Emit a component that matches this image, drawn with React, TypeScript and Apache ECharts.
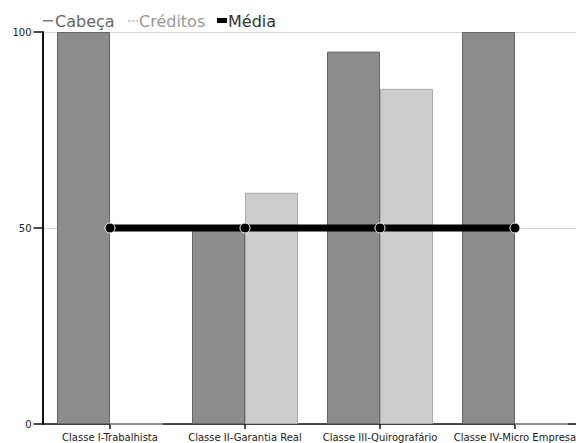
import React, { useEffect, useRef } from "react";
import * as echarts from "echarts";

const categories = [
  "Classe I-Trabalhista",
  "Classe II-Garantia Real",
  "Classe III-Quirografário",
  "Classe IV-Micro Empresa",
];
const seriesNames = ["Cabeça", "Créditos", "Média"];
const cabecaValues = [100, 50, 95, 100];
const creditosValues = [0, 59, 85.5, 0];
const mediaValues = [50, 50, 50, 50];
const yTicks = { min: 0, max: 100, interval: 50 };

export default function App() {
  const ref = useRef<HTMLDivElement>(null);
  useEffect(() => {
    if (!ref.current) return;
    const chart = echarts.init(ref.current, null, { renderer: "svg" });
    const font = "DejaVu Sans";
    const legendText = (x: number, text: string, color: string) => ({
      type: "text",
      x,
      y: 21.5,
      style: {
        text,
        fill: color,
        font: `16px "${font}"`,
        textVerticalAlign: "middle",
        verticalAlign: "middle",
      },
    });
    chart.setOption({
      animation: false,
      backgroundColor: "#ffffff",
      textStyle: { fontFamily: font },
      graphic: [
        { type: "rect", shape: { x: 43, y: 20, width: 10, height: 1.5 }, style: { fill: "#777" } },
        legendText(55, seriesNames[0], "#666"),
        {
          type: "line",
          shape: { x1: 128, y1: 21, x2: 138, y2: 21 },
          style: { stroke: "#aaa", lineWidth: 1, lineDash: [3, 1] },
        },
        legendText(139, seriesNames[1], "#999"),
        { type: "rect", shape: { x: 217, y: 18, width: 10, height: 5 }, style: { fill: "#000" } },
        legendText(228, seriesNames[2], "#333"),
      ],
      grid: { left: 42.5, top: 32, width: 540, bottom: 19, containLabel: false, outerBoundsMode: "none" },
      xAxis: {
        type: "category",
        data: categories,
        boundaryGap: true,
        axisLine: { show: true, lineStyle: { color: "#111", width: 1.5 } },
        axisTick: { show: true, alignWithLabel: true, length: 5, lineStyle: { color: "#111", width: 1.5 } },
        axisLabel: { fontFamily: font, fontSize: 10, color: "#222", margin: 8, interval: 0 },
        splitLine: { show: false },
      },
      yAxis: {
        type: "value",
        min: yTicks.min,
        max: yTicks.max,
        interval: yTicks.interval,
        axisLine: { show: true, lineStyle: { color: "#111", width: 2 } },
        axisTick: { show: true, length: 9, lineStyle: { color: "#111", width: 1.5 } },
        axisLabel: { fontFamily: font, fontSize: 10, color: "#222", margin: 11 },
        splitLine: { show: true, lineStyle: { color: "#aaaaaa", type: "dotted", width: 1 } },
      },
      series: [
        {
          name: seriesNames[0],
          type: "bar",
          data: cabecaValues,
          barWidth: 53,
          barGap: "0%",
          itemStyle: { color: "#8c8c8c", borderColor: "#666", borderWidth: 1 },
          z: 2,
        },
        {
          name: seriesNames[1],
          type: "bar",
          data: creditosValues,
          barWidth: 53,
          barGap: "0%",
          itemStyle: { color: "#cccccc", borderColor: "#aaa", borderWidth: 1 },
          z: 2,
        },
        {
          name: seriesNames[2],
          type: "line",
          data: mediaValues,
          symbol: "circle",
          symbolSize: 10,
          lineStyle: { color: "#000", width: 7 },
          itemStyle: { color: "#000", borderColor: "#fff", borderWidth: 1 },
          z: 5,
        },
      ],
    });
    return () => chart.dispose();
  }, []);
  return (
    <div
      ref={ref}
      style={{ position: "absolute", left: 0, top: 0, width: 576, height: 443 }}
    />
  );
}
